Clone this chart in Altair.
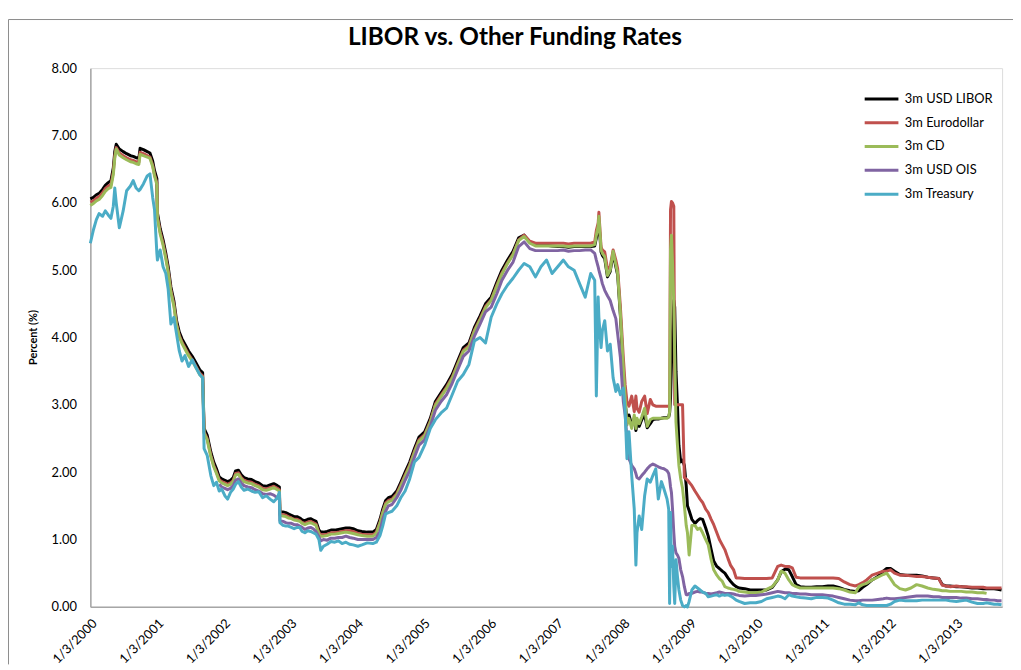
import altair as alt
import pandas as pd

chart_title = "LIBOR vs. Other Funding Rates"
series_names = ["3m USD LIBOR", "3m Eurodollar", "3m CD", "3m USD OIS", "3m Treasury"]
series_colors = ["#000000", "#C0504D", "#9BBB59", "#8064A2", "#4BACC6"]
tick_years = list(range(2000, 2014))
y_ticks = [0, 1, 2, 3, 4, 5, 6, 7, 8]

dates = [
    # 2000
    "2000-01-03", "2000-01-20", "2000-02-05", "2000-02-20", "2000-03-10", "2000-03-25", "2000-04-10", "2000-04-25",
    "2000-05-08", "2000-05-16", "2000-05-24", "2000-06-10", "2000-07-01", "2000-07-20", "2000-08-10", "2000-08-25",
    "2000-09-10", "2000-09-25", "2000-10-02", "2000-10-20", "2000-11-10", "2000-11-25", "2000-12-10", "2000-12-20",
    # 2001
    "2001-01-02", "2001-01-05", "2001-01-20", "2001-02-05", "2001-02-20", "2001-03-05", "2001-03-20", "2001-04-05",
    "2001-04-20", "2001-05-05", "2001-05-20", "2001-06-05", "2001-06-25", "2001-07-15", "2001-08-05", "2001-08-25",
    "2001-09-10", "2001-09-18", "2001-10-05", "2001-10-25", "2001-11-10", "2001-11-25", "2001-12-10", "2001-12-24",
    # 2002
    "2002-01-10", "2002-01-25", "2002-02-10", "2002-02-25", "2002-03-10", "2002-03-25", "2002-04-10", "2002-04-25",
    "2002-05-15", "2002-06-05", "2002-06-25", "2002-07-15", "2002-08-05", "2002-08-25", "2002-09-15", "2002-10-05",
    "2002-10-25", "2002-11-05", "2002-11-08", "2002-11-25", "2002-12-10", "2002-12-24",
    # 2003
    "2003-01-10", "2003-01-25", "2003-02-10", "2003-02-25", "2003-03-10", "2003-03-25", "2003-04-10", "2003-04-25",
    "2003-05-10", "2003-05-25", "2003-06-10", "2003-06-20", "2003-07-05", "2003-07-25", "2003-08-15", "2003-09-05",
    "2003-09-25", "2003-10-15", "2003-11-05", "2003-11-25", "2003-12-15",
    # 2004
    "2004-01-10", "2004-02-01", "2004-03-01", "2004-04-01", "2004-04-20", "2004-05-10", "2004-05-25", "2004-06-10",
    "2004-06-25", "2004-07-15", "2004-08-10", "2004-09-01", "2004-09-25", "2004-10-20", "2004-11-15", "2004-12-10",
    # 2005
    "2005-01-10", "2005-02-10", "2005-03-10", "2005-04-10", "2005-05-10", "2005-06-10", "2005-07-10", "2005-08-10",
    "2005-09-10", "2005-10-10", "2005-11-10", "2005-12-10",
    # 2006
    "2006-01-10", "2006-02-10", "2006-03-10", "2006-04-10", "2006-05-10", "2006-06-10", "2006-07-10", "2006-08-10",
    "2006-09-10", "2006-10-10", "2006-11-10", "2006-12-10",
    # 2007
    "2007-01-10", "2007-02-10", "2007-03-10", "2007-04-10", "2007-05-10", "2007-06-10", "2007-07-10", "2007-08-01",
    "2007-08-10", "2007-08-20", "2007-08-24", "2007-09-05", "2007-09-12", "2007-09-25", "2007-10-10", "2007-10-25",
    "2007-11-10", "2007-11-25", "2007-12-05", "2007-12-20",
    # 2008
    "2008-01-05", "2008-01-15", "2008-01-25", "2008-02-05", "2008-02-20", "2008-03-05", "2008-03-14", "2008-03-20",
    "2008-04-01", "2008-04-15", "2008-05-01", "2008-05-15", "2008-06-01", "2008-06-15", "2008-07-01", "2008-07-15",
    "2008-08-01", "2008-08-15", "2008-09-01", "2008-09-10", "2008-09-15", "2008-09-20", "2008-09-25", "2008-10-01",
    "2008-10-08", "2008-10-13", "2008-10-20", "2008-10-28", "2008-11-05", "2008-11-15", "2008-11-25", "2008-12-05",
    "2008-12-15", "2008-12-22", "2008-12-31",
    # 2009
    "2009-01-15", "2009-02-01", "2009-02-15", "2009-03-01", "2009-03-15", "2009-04-01", "2009-04-15", "2009-05-01",
    "2009-05-15", "2009-06-01", "2009-06-15", "2009-07-01", "2009-07-15", "2009-08-01", "2009-08-15", "2009-09-01",
    "2009-09-15", "2009-10-01", "2009-11-01", "2009-12-01",
    # 2010
    "2010-01-01", "2010-02-01", "2010-03-01", "2010-04-01", "2010-05-01", "2010-05-20", "2010-06-10", "2010-07-01",
    "2010-07-20", "2010-08-10", "2010-09-01", "2010-10-01", "2010-11-01", "2010-12-01",
    # 2011
    "2011-01-01", "2011-02-01", "2011-03-01", "2011-04-01", "2011-05-01", "2011-06-01", "2011-07-01", "2011-07-20",
    "2011-08-10", "2011-09-01", "2011-10-01", "2011-11-01", "2011-12-01", "2011-12-20",
    # 2012
    "2012-01-10", "2012-02-01", "2012-03-01", "2012-04-01", "2012-05-01", "2012-06-01", "2012-07-01", "2012-08-01",
    "2012-09-01", "2012-10-01", "2012-10-20", "2012-11-10", "2012-12-01",
    # 2013
    "2013-01-05", "2013-02-01", "2013-03-01", "2013-04-01", "2013-05-01", "2013-06-01", "2013-06-20", "2013-07-10",
    "2013-08-01", "2013-08-20", "2013-09-10",
]

libor = [
    # 2000
    6.06, 6.08, 6.12, 6.14, 6.20, 6.26, 6.30, 6.33, 6.52, 6.76, 6.87, 6.80,
    6.76, 6.73, 6.70, 6.69, 6.67, 6.66, 6.81, 6.79, 6.76, 6.74, 6.62, 6.48,
    # 2001
    6.36, 5.85, 5.62, 5.45, 5.25, 5.05, 4.75, 4.55, 4.25, 4.08, 3.98, 3.90,
    3.80, 3.72, 3.62, 3.52, 3.48, 2.65, 2.55, 2.30, 2.15, 2.05, 1.93, 1.90,
    # 2002
    1.88, 1.86, 1.88, 1.92, 2.02, 2.03, 1.96, 1.92, 1.90, 1.89, 1.86,
    1.84, 1.80, 1.79, 1.81, 1.83, 1.80, 1.78, 1.42, 1.41, 1.40, 1.38,
    # 2003
    1.36, 1.34, 1.34, 1.32, 1.29, 1.28, 1.30, 1.31, 1.29, 1.27, 1.14,
    1.11, 1.11, 1.12, 1.14, 1.14, 1.15, 1.16, 1.17, 1.17, 1.16,
    # 2004
    1.13, 1.12, 1.11, 1.11, 1.15, 1.30, 1.45, 1.58, 1.62, 1.64, 1.72, 1.85, 2.00, 2.15, 2.35, 2.52,
    # 2005
    2.60, 2.80, 3.05, 3.18, 3.30, 3.45, 3.65, 3.85, 3.92, 4.15, 4.32, 4.50,
    # 2006
    4.60, 4.82, 5.00, 5.15, 5.28, 5.48, 5.52, 5.42, 5.38, 5.37, 5.37, 5.36,
    # 2007
    5.35, 5.35, 5.34, 5.35, 5.35, 5.35, 5.35, 5.36, 5.48, 5.60,
    5.70, 5.27, 5.22, 5.17, 4.90, 4.98, 5.25, 5.05, 4.93, 4.32,
    # 2008
    3.50, 3.05, 2.75, 2.85, 2.70, 2.80, 2.62, 2.72, 2.68, 2.78, 2.85, 2.66,
    2.72, 2.78, 2.79, 2.79, 2.80, 2.81, 2.81, 2.82, 2.88, 3.10, 3.60, 4.10,
    4.55, 4.45, 3.50, 3.00, 2.40, 2.15, 2.18, 2.10, 1.80, 1.50, 1.43,
    # 2009
    1.30, 1.24, 1.28, 1.31, 1.30, 1.17, 1.05, 0.85, 0.68, 0.60,
    0.57, 0.53, 0.50, 0.43, 0.38, 0.33, 0.30, 0.28, 0.27, 0.25,
    # 2010
    0.25, 0.25, 0.25, 0.29, 0.40, 0.52, 0.56, 0.55, 0.45, 0.33, 0.30, 0.29, 0.29, 0.30,
    # 2011
    0.30, 0.31, 0.31, 0.29, 0.26, 0.24, 0.23, 0.24, 0.29, 0.33, 0.40, 0.45, 0.53, 0.57,
    # 2012
    0.57, 0.53, 0.48, 0.47, 0.47, 0.47, 0.46, 0.44, 0.43, 0.42, 0.33, 0.31, 0.31,
    # 2013
    0.30, 0.30, 0.29, 0.28, 0.28, 0.27, 0.27, 0.27, 0.27, 0.26, 0.25,
]

eurodollar = [
    # 2000
    6.01, 6.03, 6.07, 6.09, 6.15, 6.21, 6.25, 6.27, 6.46, 6.70, 6.82, 6.74,
    6.70, 6.67, 6.64, 6.63, 6.61, 6.60, 6.75, 6.73, 6.70, 6.68, 6.56, 6.42,
    # 2001
    6.30, 5.80, 5.57, 5.40, 5.20, 5.00, 4.70, 4.50, 4.20, 4.03, 3.93, 3.85,
    3.75, 3.67, 3.57, 3.47, 3.43, 2.60, 2.50, 2.25, 2.10, 2.00, 1.89, 1.86,
    # 2002
    1.84, 1.82, 1.84, 1.88, 1.98, 1.99, 1.92, 1.88, 1.86, 1.85, 1.82,
    1.80, 1.76, 1.75, 1.77, 1.79, 1.76, 1.74, 1.38, 1.37, 1.36, 1.34,
    # 2003
    1.32, 1.30, 1.30, 1.28, 1.25, 1.24, 1.26, 1.27, 1.25, 1.23, 1.10,
    1.07, 1.07, 1.08, 1.10, 1.10, 1.11, 1.12, 1.13, 1.13, 1.12,
    # 2004
    1.09, 1.08, 1.07, 1.07, 1.11, 1.26, 1.41, 1.54, 1.58, 1.60, 1.68, 1.81, 1.96, 2.11, 2.31, 2.48,
    # 2005
    2.56, 2.76, 3.01, 3.14, 3.26, 3.41, 3.61, 3.81, 3.88, 4.11, 4.28, 4.46,
    # 2006
    4.56, 4.78, 4.96, 5.11, 5.24, 5.45, 5.52, 5.43, 5.40, 5.40, 5.40, 5.40,
    # 2007
    5.40, 5.40, 5.39, 5.40, 5.40, 5.40, 5.40, 5.42, 5.59, 5.70,
    5.86, 5.34, 5.30, 5.27, 5.02, 5.05, 5.30, 5.15, 5.02, 4.45,
    # 2008
    3.70, 3.30, 3.05, 2.98, 3.13, 2.90, 3.13, 2.95, 2.89, 3.05, 3.13, 2.87,
    3.08, 3.00, 2.98, 2.98, 2.98, 2.98, 2.98, 2.98, 3.00, 5.90, 6.02, 6.00,
    5.95, 3.00, 3.00, 3.00, 3.00, 3.00, 3.00, 1.92, 1.90, 1.88, 1.85,
    # 2009
    1.80, 1.72, 1.66, 1.60, 1.55, 1.45, 1.40, 1.30, 1.22, 1.10,
    1.00, 0.92, 0.85, 0.72, 0.62, 0.55, 0.43, 0.43, 0.42, 0.42,
    # 2010
    0.42, 0.42, 0.42, 0.43, 0.60, 0.62, 0.60, 0.60, 0.58, 0.44, 0.43, 0.43, 0.43, 0.43,
    # 2011
    0.43, 0.43, 0.43, 0.42, 0.37, 0.33, 0.31, 0.33, 0.36, 0.40, 0.47, 0.50, 0.53, 0.53,
    # 2012
    0.55, 0.50, 0.47, 0.47, 0.46, 0.45, 0.45, 0.44, 0.43, 0.42, 0.32, 0.31, 0.30,
    # 2013
    0.31, 0.30, 0.30, 0.29, 0.29, 0.29, 0.28, 0.28, 0.28, 0.28, 0.28,
]

cd = [
    # 2000
    5.96, 5.99, 6.03, 6.05, 6.11, 6.17, 6.21, 6.23, 6.42, 6.66, 6.80, 6.71,
    6.67, 6.64, 6.61, 6.60, 6.58, 6.57, 6.72, 6.70, 6.68, 6.66, 6.54, 6.40,
    # 2001
    6.27, 5.77, 5.54, 5.37, 5.17, 4.97, 4.67, 4.47, 4.18, 4.01, 3.91, 3.83,
    3.73, 3.65, 3.55, 3.45, 3.41, 2.58, 2.48, 2.23, 2.08, 1.98, 1.87, 1.84,
    # 2002
    1.82, 1.80, 1.82, 1.86, 1.96, 1.97, 1.90, 1.86, 1.84, 1.83, 1.80,
    1.78, 1.74, 1.73, 1.75, 1.77, 1.74, 1.72, 1.36, 1.35, 1.34, 1.32,
    # 2003
    1.31, 1.29, 1.28, 1.27, 1.24, 1.22, 1.24, 1.25, 1.23, 1.21, 1.08,
    1.05, 1.05, 1.06, 1.08, 1.08, 1.09, 1.10, 1.11, 1.10, 1.09,
    # 2004
    1.07, 1.06, 1.05, 1.05, 1.09, 1.24, 1.39, 1.52, 1.56, 1.58, 1.66, 1.79, 1.94, 2.09, 2.29, 2.46,
    # 2005
    2.54, 2.74, 2.99, 3.12, 3.24, 3.39, 3.59, 3.79, 3.86, 4.09, 4.26, 4.44,
    # 2006
    4.55, 4.76, 4.94, 5.10, 5.23, 5.44, 5.50, 5.40, 5.36, 5.36, 5.36, 5.36,
    # 2007
    5.36, 5.36, 5.35, 5.36, 5.36, 5.36, 5.36, 5.38, 5.52, 5.65,
    5.80, 5.30, 5.25, 5.20, 4.92, 5.00, 5.28, 5.08, 4.95, 4.35,
    # 2008
    3.55, 3.10, 2.70, 2.80, 2.65, 2.85, 2.65, 2.80, 2.72, 2.82, 2.95, 2.68,
    2.78, 2.80, 2.80, 2.80, 2.80, 2.80, 2.80, 2.82, 2.90, 5.30, 5.52, 5.10,
    4.50, 3.72, 2.74, 2.40, 2.10, 1.90, 1.76, 1.50, 1.21, 1.10, 0.77,
    # 2009
    1.21, 1.21, 1.15, 1.17, 1.10, 1.00, 0.92, 0.70, 0.55, 0.47,
    0.42, 0.38, 0.30, 0.28, 0.27, 0.26, 0.25, 0.23, 0.22, 0.21,
    # 2010
    0.21, 0.22, 0.26, 0.30, 0.40, 0.53, 0.50, 0.40, 0.33, 0.30, 0.28, 0.28, 0.28, 0.28,
    # 2011
    0.28, 0.28, 0.28, 0.27, 0.25, 0.22, 0.21, 0.30, 0.33, 0.35, 0.40, 0.44, 0.48, 0.50,
    # 2012
    0.42, 0.33, 0.27, 0.25, 0.28, 0.33, 0.31, 0.28, 0.26, 0.25, 0.24, 0.24, 0.23,
    # 2013
    0.23, 0.23, 0.22, 0.22, 0.21, 0.21, 0.20, None, None, None, None,
]

ois = [
    # 2000
    None, None, None, None, None, None, None, None, None, None, None, None,
    None, None, None, None, None, None, None, None, None, None, None, None,
    # 2001
    None, None, None, None, None, None, None, None, None, None, None, None,
    None, None, None, None, None, None, None, None, None, None, 1.82, 1.78,
    # 2002
    1.76, 1.74, 1.76, 1.80, 1.88, 1.90, 1.84, 1.80, 1.78, 1.77, 1.74,
    1.72, 1.68, 1.67, 1.68, 1.66, 1.62, 1.60, 1.28, 1.27, 1.25, 1.24,
    # 2003
    1.24, 1.22, 1.22, 1.20, 1.18, 1.15, 1.17, 1.18, 1.16, 1.12, 1.04,
    0.98, 1.00, 0.99, 1.02, 1.02, 1.03, 1.03, 1.05, 1.03, 1.02,
    # 2004
    1.00, 1.00, 1.00, 1.00, 1.03, 1.12, 1.30, 1.42, 1.50, 1.52, 1.62, 1.73, 1.88, 2.02, 2.22, 2.40,
    # 2005
    2.48, 2.68, 2.92, 3.05, 3.15, 3.32, 3.52, 3.72, 3.80, 4.02, 4.20, 4.38,
    # 2006
    4.45, 4.65, 4.85, 5.00, 5.12, 5.35, 5.42, 5.32, 5.29, 5.29, 5.29, 5.29,
    # 2007
    5.29, 5.30, 5.28, 5.29, 5.29, 5.30, 5.30, 5.25, 5.15, 5.05,
    5.00, 4.88, 4.80, 4.70, 4.62, 4.55, 4.40, 4.28, 4.05, 3.70,
    # 2008
    3.05, 2.85, 2.50, 2.20, 2.10, 2.05, 1.98, 1.92, 1.90, 1.95, 2.00, 2.05,
    2.10, 2.12, 2.10, 2.08, 2.06, 2.05, 2.02, 1.98, 1.90, 1.78, 1.70, 1.45,
    1.10, 0.90, 0.80, 0.77, 0.72, 0.55, 0.45, 0.30, 0.18, 0.18, 0.20,
    # 2009
    0.20, 0.22, 0.23, 0.22, 0.22, 0.20, 0.20, 0.19, 0.20, 0.21,
    0.22, 0.21, 0.20, 0.20, 0.20, 0.19, 0.18, 0.17, 0.16, 0.17,
    # 2010
    0.17, 0.18, 0.19, 0.21, 0.23, 0.22, 0.21, 0.21, 0.20, 0.20, 0.19, 0.19, 0.18, 0.18,
    # 2011
    0.18, 0.17, 0.16, 0.14, 0.12, 0.10, 0.09, 0.09, 0.10, 0.10, 0.10, 0.11, 0.12, 0.13,
    # 2012
    0.12, 0.12, 0.13, 0.14, 0.15, 0.16, 0.16, 0.16, 0.15, 0.15, 0.14, 0.14, 0.14,
    # 2013
    0.14, 0.13, 0.13, 0.12, 0.12, 0.11, 0.11, 0.10, 0.10, 0.09, 0.09,
]

treasury = [
    # 2000
    5.40, 5.60, 5.75, 5.84, 5.80, 5.88, 5.82, 5.77, 5.95, 6.22, 6.00, 5.63,
    5.88, 6.18, 6.25, 6.33, 6.22, 6.18, 6.20, 6.28, 6.40, 6.43, 6.08, 5.90,
    # 2001
    5.25, 5.15, 5.30, 5.05, 4.95, 4.72, 4.20, 4.30, 4.05, 3.80, 3.65, 3.73,
    3.57, 3.67, 3.55, 3.45, 3.40, 2.35, 2.25, 1.95, 1.80, 1.85, 1.72, 1.75,
    # 2002
    1.65, 1.60, 1.70, 1.75, 1.82, 1.86, 1.78, 1.73, 1.75, 1.72, 1.70,
    1.71, 1.62, 1.65, 1.60, 1.56, 1.62, 1.70, 1.25, 1.21, 1.20, 1.20,
    # 2003
    1.18, 1.16, 1.18, 1.18, 1.12, 1.10, 1.13, 1.12, 1.10, 1.08, 1.00,
    0.84, 0.90, 0.93, 0.97, 0.96, 0.98, 0.94, 0.96, 0.93, 0.92,
    # 2004
    0.90, 0.92, 0.95, 0.94, 0.96, 1.06, 1.20, 1.38, 1.40, 1.42, 1.50, 1.62, 1.72, 1.90, 2.15, 2.22,
    # 2005
    2.40, 2.65, 2.78, 2.88, 2.95, 3.15, 3.35, 3.45, 3.60, 3.95, 4.00, 3.92,
    # 2006
    4.30, 4.50, 4.65, 4.78, 4.88, 5.00, 5.10, 5.05, 4.90, 5.05, 5.15, 4.95,
    # 2007
    5.05, 5.15, 5.05, 5.00, 4.80, 4.60, 4.95, 4.85, 3.13, 4.60,
    4.30, 3.85, 4.10, 4.25, 3.80, 3.90, 3.40, 3.20, 3.30, 3.15,
    # 2008
    3.25, 2.90, 2.20, 2.60, 1.95, 1.45, 0.62, 1.10, 1.35, 1.15, 1.65, 1.90,
    1.85, 1.95, 2.05, 1.60, 1.86, 1.75, 1.60, 1.45, 0.05, 1.40, 0.60, 0.90,
    0.30, 0.05, 0.70, 0.45, 0.25, 0.10, 0.02, 0.00, 0.02, 0.00, 0.08,
    # 2009
    0.25, 0.31, 0.28, 0.25, 0.22, 0.20, 0.15, 0.16, 0.17, 0.18,
    0.16, 0.18, 0.17, 0.18, 0.16, 0.13, 0.10, 0.08, 0.05, 0.06,
    # 2010
    0.06, 0.08, 0.12, 0.14, 0.16, 0.15, 0.12, 0.18, 0.16, 0.15, 0.14, 0.13, 0.12, 0.14,
    # 2011
    0.14, 0.13, 0.10, 0.06, 0.04, 0.04, 0.03, 0.06, 0.03, 0.02, 0.02, 0.02, 0.02, 0.02,
    # 2012
    0.04, 0.08, 0.10, 0.09, 0.09, 0.09, 0.10, 0.10, 0.10, 0.10, 0.10, 0.10, 0.09,
    # 2013
    0.08, 0.09, 0.10, 0.07, 0.05, 0.05, 0.06, 0.05, 0.04, 0.04, 0.03,
]

columns = [libor, eurodollar, cd, ois, treasury]
n = len(dates)
wide = {"date": dates}
for name, vals in zip(series_names, columns):
    vals = list(vals)[:n] + [None] * max(0, n - len(vals))
    wide[name] = vals
df = pd.DataFrame(wide).melt(id_vars="date", var_name="series", value_name="value").dropna()

FONT = "Lato"

x_enc = alt.X(
    "date:T",
    scale=alt.Scale(
        type="utc",
        domain=[alt.DateTime(year=2000, month=1, date=3, utc=True),
                alt.DateTime(year=2013, month=9, date=13, utc=True)],
    ),
    axis=alt.Axis(
        values=[alt.DateTime(year=yr, month=1, date=3, utc=True) for yr in tick_years],
        format="%-m/%-d/%Y",
        labelAngle=-45,
        labelAlign="right",
        labelBaseline="top",
        labelPadding=10,
        labelFontSize=13,
        labelFont=FONT,
        labelColor="#000000",
        ticks=False,
        grid=False,
        domainColor="#a6a6a6",
        domainWidth=1.5,
        title=None,
        labelOverlap=False,
    ),
)
y_enc = alt.Y(
    "value:Q",
    scale=alt.Scale(domain=[0, 8], nice=False, zero=True),
    axis=alt.Axis(
        values=y_ticks,
        format=".2f",
        ticks=False,
        grid=False,
        labelPadding=14,
        labelFontSize=13,
        labelFont=FONT,
        labelColor="#000000",
        domainColor="#a6a6a6",
        domainWidth=1.5,
        title="Percent (%)",
        titleFont=FONT,
        titleFontSize=11,
        titleFontWeight="bold",
        titleColor="#000000",
        titleX=-52,
        titleY=271,
    ),
)
color_enc = alt.Color(
    "series:N",
    scale=alt.Scale(domain=series_names, range=series_colors),
    sort=series_names,
    legend=alt.Legend(
        orient="none",
        legendX=779,
        legendY=24,
        title=None,
        symbolType="stroke",
        symbolSize=1156,
        symbolStrokeWidth=3,
        clipHeight=14,
        labelFont=FONT,
        labelFontSize=13,
        labelColor="#000000",
        labelOffset=5,
        rowPadding=10,
    ),
)

layers = []
for name in series_names:
    layers.append(
        alt.Chart(df)
        .transform_filter(alt.datum.series == name)
        .mark_line(strokeWidth=3, strokeJoin="round")
        .encode(x=x_enc, y=y_enc, color=color_enc)
    )

# chart-area frame (decoration, left and top edges) and the chart title
deco_df = pd.DataFrame({"label": [chart_title]})
frame_left = alt.Chart(deco_df).mark_rule(color="#8c8c8c", strokeWidth=1).encode(
    x=alt.value(-82.5), y=alt.value(-49), y2=alt.value(601)
)
frame_top = alt.Chart(deco_df).mark_rule(color="#8c8c8c", strokeWidth=1).encode(
    x=alt.value(-82.5), x2=alt.value(930), y=alt.value(-49)
)
title_text = alt.Chart(deco_df).mark_text(
    font=FONT, fontSize=24.5, fontWeight="bold", color="#000000",
    align="center", baseline="alphabetic",
).encode(text="label:N", x=alt.value(428), y=alt.value(-23))

chart = (
    alt.layer(*layers, frame_left, frame_top, title_text)
    .properties(
        width=919,
        height=543,
        autosize=alt.AutoSizeParams(type="none"),
        padding={"left": 83, "top": 58, "right": 11, "bottom": 58},
    )
    .configure_view(stroke=None)
    .configure(background="#ffffff")
)

chart.save("out.html", embed_options={"renderer": "svg", "actions": False})
